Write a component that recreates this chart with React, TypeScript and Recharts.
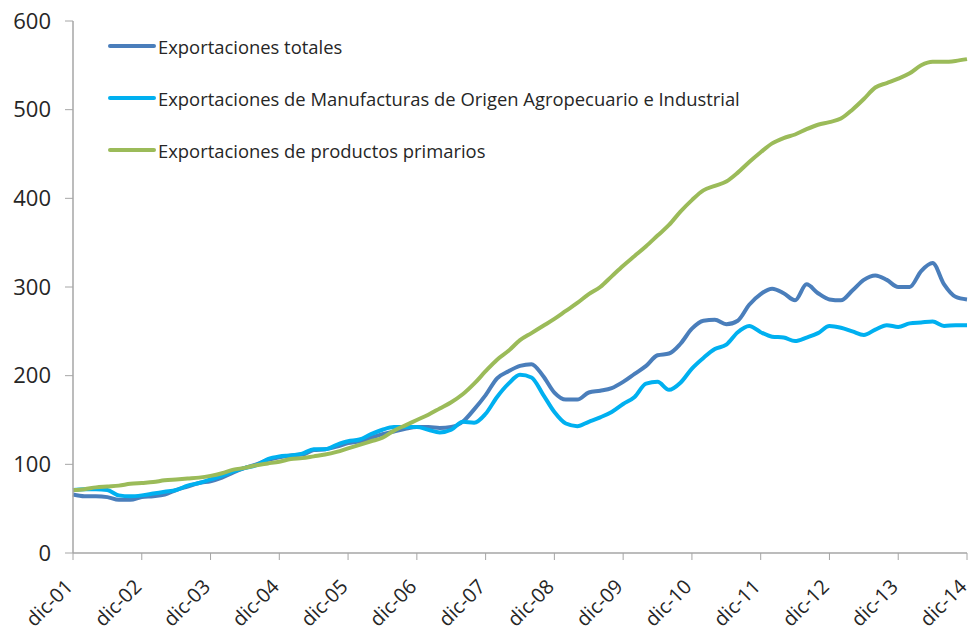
import { Line, LineChart, XAxis, YAxis } from "recharts";

// Bimonthly observations, dic-01 .. dic-14 (index, base dic-01 ~ 70)
const MONTHS = ["dic", "feb", "abr", "jun", "ago", "oct"];
const PERIODS = Array.from({ length: 79 }, (_, i) => {
  const yy = 1 + Math.ceil(i / 6);
  return `${MONTHS[i % 6]}-${String(yy).padStart(2, "0")}`;
});
const X_TICKS = PERIODS.filter((p) => p.startsWith("dic"));
const Y_TICKS = [0, 100, 200, 300, 400, 500, 600];

const totales = [
  66, 64, 64, 63, 60, 60, 63, 64, 66, 71, 75, 79, 81, 85, 91, 96, 100, 105,
  108, 110, 111, 116, 117, 120, 124, 126, 130, 134, 137, 140, 142, 142, 141,
  142, 148, 162, 178, 197, 205, 211, 213, 200, 181, 173, 173, 181, 183, 186,
  193, 202, 211, 223, 225, 236, 253, 262, 263, 258, 262, 280, 292, 298, 293,
  285, 303, 293, 286, 285, 296, 308, 313, 308, 300, 300, 318, 327, 303, 289,
  286,
];

const manufacturas = [
  71, 72, 72, 71, 65, 64, 65, 67, 69, 71, 76, 79, 83, 87, 92, 96, 99, 106,
  109, 110, 112, 117, 117, 122, 126, 128, 134, 139, 142, 142, 142, 139, 136,
  139, 148, 147, 157, 176, 191, 201, 198, 179, 159, 146, 143, 148, 153, 159,
  168, 176, 191, 193, 184, 192, 208, 220, 230, 235, 249, 256, 249, 244, 243,
  239, 243, 248, 256, 254, 250, 246, 252, 257, 255, 259, 260, 261, 256, 257,
  257,
];

const primarios = [
  71, 72, 74, 75, 76, 78, 79, 80, 82, 83, 84, 85, 87, 90, 94, 96, 99, 101,
  103, 106, 107, 109, 111, 114, 118, 122, 126, 130, 138, 144, 150, 156, 163,
  170, 179, 191, 205, 218, 228, 240, 248, 256, 264, 273, 282, 292, 300, 312,
  324, 335, 346, 358, 370, 385, 398, 409, 414, 419, 429, 441, 452, 462, 468,
  472, 478, 483, 486, 490, 500, 512, 525, 530, 535, 541, 550, 554, 554, 555,
  557,
];

const SERIES = [
  { key: "totales", name: "Exportaciones totales", color: "#4A7EBB" },
  {
    key: "manufacturas",
    name: "Exportaciones de Manufacturas de Origen Agropecuario e Industrial",
    color: "#00B0F0",
  },
  { key: "primarios", name: "Exportaciones de productos primarios", color: "#9BBB59" },
];

const data = PERIODS.map((p, i) => ({
  period: p,
  totales: totales[i],
  manufacturas: manufacturas[i],
  primarios: primarios[i],
}));

const FONT = "'Open Sans', sans-serif";
const AXIS = "#A6A6A6";
const TEXT = "#262626";

function XTick({ x, y, payload }: any) {
  const px = x + 1;
  const py = y + 26;
  return (
    <text
      x={px}
      y={py}
      transform={`rotate(-45 ${px} ${py})`}
      textAnchor="end"
      fontSize={20}
      fontFamily={FONT}
      fill={TEXT}
    >
      {payload.value}
    </text>
  );
}

// legend drawn as a plain overlay so it doesn't take room from the plot
function LegendBox() {
  return (
    <div
      style={{
        position: "absolute",
        left: 108,
        top: 20,
        fontFamily: FONT,
        fontSize: 18.4,
        color: TEXT,
        whiteSpace: "nowrap",
      }}
    >
      {SERIES.map((s) => (
        <div key={s.key} style={{ display: "flex", alignItems: "center", height: 52 }}>
          <span
            style={{
              display: "inline-block",
              width: 48,
              height: 4,
              background: s.color,
              borderRadius: 2,
              marginRight: 2,
            }}
          />
          {s.name}
        </div>
      ))}
    </div>
  );
}

export default function App() {
  return (
    <div
      style={{
        position: "absolute",
        left: 0,
        top: 0,
        width: 973,
        height: 633,
        background: "#fff",
      }}
    >
      <LineChart
        width={973}
        height={633}
        data={data}
        margin={{ top: 21, right: 6, bottom: 0, left: 0 }}
      >
        <XAxis
          dataKey="period"
          ticks={X_TICKS}
          interval={0}
          tick={<XTick />}
          tickLine={{ stroke: AXIS }}
          axisLine={{ stroke: AXIS, strokeWidth: 1.5 }}
          tickSize={7}
          height={80}
        />
        <YAxis
          domain={[0, 600]}
          ticks={Y_TICKS}
          width={73}
          tickSize={8}
          tickMargin={14}
          tickLine={{ stroke: AXIS }}
          axisLine={{ stroke: AXIS, strokeWidth: 1.5 }}
          tick={{ fontSize: 22, fontFamily: FONT, fill: TEXT }}
        />
        {SERIES.map((s) => (
          <Line
            key={s.key}
            dataKey={s.key}
            name={s.name}
            stroke={s.color}
            strokeWidth={4}
            dot={false}
            type="monotone"
            isAnimationActive={false}
          />
        ))}
      </LineChart>
      <LegendBox />
    </div>
  );
}
